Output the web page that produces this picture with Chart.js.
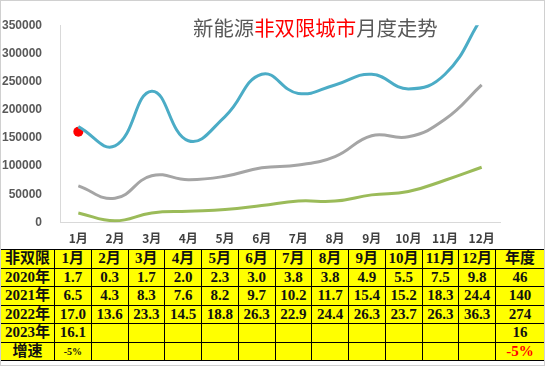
<!DOCTYPE html>
<html><head><meta charset="utf-8">
<script src="https://cdn.jsdelivr.net/npm/chart.js@4"></script>
<style>
html,body{margin:0;padding:0;background:#fff;}
#wrap{position:relative;width:545px;height:366px;overflow:hidden;background:#fff;}
#frame{position:absolute;left:0;top:0;width:543px;height:364px;border:1px solid #d0d0d0;pointer-events:none;}
#chartBox{position:absolute;left:0;top:0;width:545px;height:249px;}
#title{position:absolute;left:193px;top:14px;font:20.4px "Noto Sans CJK SC",sans-serif;color:#595959;white-space:nowrap;line-height:26px;}
#title .r{color:#ff0000;}
table{position:absolute;left:0;top:249px;border-collapse:collapse;background:#ffff00;table-layout:fixed;}
td{border:1.5px solid #000;height:17.5px;padding:0;text-align:center;vertical-align:middle;font:bold 15px "Liberation Serif","Noto Sans CJK SC",serif;color:#111;line-height:17px;white-space:nowrap;overflow:hidden;}
td.small{font-size:10px;}
td.red{color:#ff0000;}
</style></head>
<body><div id="wrap">
<div id="chartBox"><canvas id="c" width="545" height="249"></canvas></div>
<div id="title"></div>
<table id="tbl"></table>
<div id="frame"></div>
</div>
<script>
const months = ['1月','2月','3月','4月','5月','6月','7月','8月','9月','10月','11月','12月'];
const yTicks = [0,50000,100000,150000,200000,250000,300000,350000];
// values in 万 (10,000)
const s2020 = [1.7,0.3,1.7,2.0,2.3,3.0,3.8,3.8,4.9,5.5,7.5,9.8];
const s2021 = [6.5,4.3,8.3,7.6,8.2,9.7,10.2,11.7,15.4,15.2,18.3,24.4];
const s2022 = [17.0,13.6,23.3,14.5,18.8,26.3,22.9,24.4,26.3,23.7,26.3,36.3];
const s2023 = [16.1];
const rowLabels = ['2020年','2021年','2022年','2023年'];
const annual = ['46','140','274','16'];
const growthLabel = '增速';
const growthMonthly = ['-5%'];
const growthAnnual = '-5%';
const headLabel = '非双限';
const annualLabel = '年度';
const titleParts = [['新能源',false],['非双限城市',true],['月度走势',false]];

document.getElementById('title').innerHTML = titleParts.map(p=>`<span class="${p[1]?'r':''}">${p[0]}</span>`).join('');

const toUnits = a => a.map(v => Math.round(v*10000));
const pad = (a) => { const r = toUnits(a); while (r.length < 12) r.push(null); return r; };

new Chart(document.getElementById('c'), {
  type: 'line',
  data: {
    labels: months,
    datasets: [
      {label:'2020年', data: toUnits(s2020), borderColor:'#9bbb59', borderWidth:3, pointRadius:0, tension:0.45, fill:false},
      {label:'2021年', data: toUnits(s2021), borderColor:'#a5a5a5', borderWidth:3, pointRadius:0, tension:0.45, fill:false},
      {label:'2022年', data: toUnits(s2022), borderColor:'#4bacc6', borderWidth:3, pointRadius:0, tension:0.45, fill:false},
      {label:'2023年', data: pad(s2023), borderColor:'#ff0000', backgroundColor:'#ff0000', showLine:false, pointRadius:5, pointBorderWidth:0}
    ]
  },
  options: {
    responsive:false, animation:false,
    layout:{padding:{left:0,right:45,top:24,bottom:0}},
    plugins:{legend:{display:false}, tooltip:{enabled:false}},
    scales:{
      x:{
        offset:true,
        grid:{display:false, drawTicks:false},
        border:{display:true,color:'#d9d9d9',width:1},
        ticks:{padding:9, color:'#404040', font:{family:'"Noto Sans CJK SC"', size:12, weight:'bold'}, maxRotation:0, autoSkip:false},
        afterFit: s => { s.height = 26.5; }
      },
      y:{
        min:0, max:350000,
        afterBuildTicks: s => { s.ticks = yTicks.map(v=>({value:v})); },
        grid:{display:false, drawTicks:false},
        border:{display:true,color:'#d9d9d9',width:1},
        ticks:{padding:18, color:'#595959', font:{family:'"Liberation Sans"', size:12, weight:'bold'}, callback: v => String(v)},
        afterFit: s => { s.width = 60; }
      }
    }
  }
});

// table
const widths = [54].concat(Array(12).fill(36.75)).concat([49]);
let html = '<colgroup>' + widths.map(w=>`<col style="width:${w}px">`).join('') + '</colgroup>';
html += '<tr><td>'+headLabel+'</td>' + months.map(m=>`<td>${m}</td>`).join('') + `<td>${annualLabel}</td></tr>`;
const series = [s2020,s2021,s2022,s2023];
series.forEach((s,i)=>{
  html += '<tr><td>'+rowLabels[i]+'</td>';
  for (let k=0;k<12;k++) html += '<td>' + (s[k]!==undefined ? s[k].toFixed(1) : '') + '</td>';
  html += '<td>'+annual[i]+'</td></tr>';
});
html += '<tr><td>'+growthLabel+'</td>';
for (let k=0;k<12;k++) html += '<td class="small">' + (growthMonthly[k]||'') + '</td>';
html += '<td class="red">'+growthAnnual+'</td></tr>';
document.getElementById('tbl').innerHTML = html;
</script>
</body></html>
